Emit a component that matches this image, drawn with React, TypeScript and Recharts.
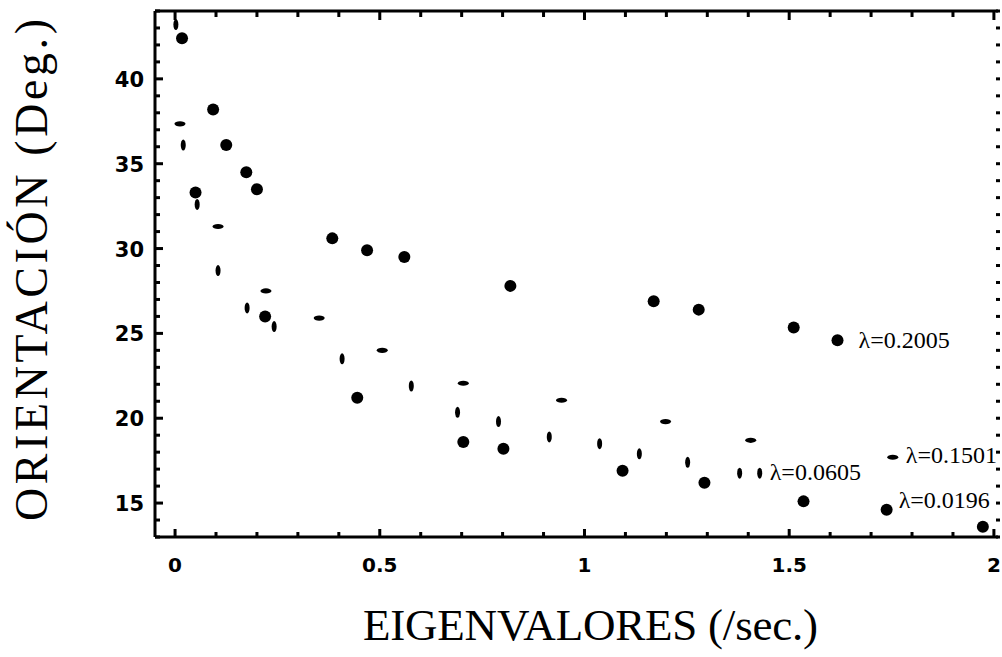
import { ScatterChart, Scatter, XAxis, YAxis, Label } from 'recharts'

// axis ticks (minor every 0.1 / every degree, labels on the majors)
const xTicks = [0, 0.1, 0.2, 0.3, 0.4, 0.5, 0.6, 0.7, 0.8, 0.9, 1, 1.1, 1.2, 1.3, 1.4, 1.5, 1.6, 1.7, 1.8, 1.9, 2]
const xMajor = [0, 0.5, 1, 1.5, 2]
const yTicks = [13, 14, 15, 16, 17, 18, 19, 20, 21, 22, 23, 24, 25, 26, 27, 28, 29, 30, 31, 32, 33, 34, 35, 36, 37, 38, 39, 40, 41, 42, 43, 44]
const yMajor = [15, 20, 25, 30, 35, 40]

// λ=0.2005 (circles, upper curve)
const upperX = [0.017, 0.093, 0.125, 0.174, 0.2, 0.384, 0.469, 0.56, 0.819, 1.169, 1.279, 1.511, 1.618]
const upperY = [42.4, 38.2, 36.1, 34.5, 33.5, 30.6, 29.9, 29.5, 27.8, 26.9, 26.4, 25.35, 24.6]

// λ=0.0196 (circles, lower curve)
const lowerX = [0.05, 0.22, 0.445, 0.704, 0.802, 1.093, 1.293, 1.535, 1.738, 1.973]
const lowerY = [33.3, 26.0, 21.2, 18.6, 18.2, 16.9, 16.2, 15.1, 14.6, 13.6]

// λ=0.1501 (horizontal dashes)
const dashX = [0.012, 0.105, 0.222, 0.352, 0.506, 0.704, 0.944, 1.198, 1.406, 1.753]
const dashY = [37.35, 31.3, 27.5, 25.9, 24.0, 22.06, 21.06, 19.8, 18.7, 17.7]

// λ=0.0605 (vertical ticks)
const tickX = [0.002, 0.02, 0.054, 0.105, 0.176, 0.242, 0.408, 0.577, 0.69, 0.79, 0.914, 1.037, 1.134, 1.252, 1.379, 1.428]
const tickY = [43.2, 36.1, 32.6, 28.7, 26.5, 25.4, 23.5, 21.9, 20.35, 19.8, 18.9, 18.5, 17.9, 17.4, 16.76, 16.76]

const toPoints = (xs: number[], ys: number[], labelAt: number, label: string) =>
  xs.map((x, i) => ({ x, y: ys[i], label: i === labelAt ? label : undefined }))

const upper = toPoints(upperX, upperY, 12, 'λ=0.2005')
const lower = toPoints(lowerX, lowerY, 8, 'λ=0.0196')
const dashes = toPoints(dashX, dashY, 9, 'λ=0.1501')
const ticks = toPoints(tickX, tickY, 15, 'λ=0.0605')

const labelOffset: Record<string, [number, number]> = {
  'λ=0.2005': [21, 8],
  'λ=0.0196': [12, -2],
  'λ=0.1501': [13, 6],
  'λ=0.0605': [10, 7],
}

const serif = "'Liberation Serif', 'Times New Roman', serif"
const boldSans = "'DejaVu Sans', sans-serif"
const frame = { stroke: '#000', strokeWidth: 3 }

function PointLabel({ cx, cy, text }: { cx: number; cy: number; text?: string }) {
  if (!text) return null
  const [dx, dy] = labelOffset[text]
  return (
    <text x={cx + dx} y={cy + dy} fontFamily={serif} fontSize={24} fill="#000">
      {text}
    </text>
  )
}

const Dot = (p: any) => (
  <g>
    <circle cx={p.cx} cy={p.cy} r={6} fill="#000" />
    <PointLabel cx={p.cx} cy={p.cy} text={p.payload?.label} />
  </g>
)

const Dash = (p: any) => (
  <g>
    <ellipse cx={p.cx} cy={p.cy} rx={5.5} ry={2.6} fill="#000" />
    <PointLabel cx={p.cx} cy={p.cy} text={p.payload?.label} />
  </g>
)

const Tick = (p: any) => (
  <g>
    <ellipse cx={p.cx} cy={p.cy} rx={2.5} ry={5.5} fill="#000" />
    <PointLabel cx={p.cx} cy={p.cy} text={p.payload?.label} />
  </g>
)

const Nothing = () => <g />

const isMajorX = (v: number) => xMajor.some((m) => Math.abs(m - v) < 1e-6)
const isMajorY = (v: number) => yMajor.includes(v)

// inward tick marks drawn as filled rects, labels only on the majors
const renderBottomTick = ({ x, y, payload }: any) => {
  const major = isMajorX(payload.value)
  const len = major ? 8 : 5
  return (
    <g>
      <rect x={x - 1.5} y={y - len} width={3} height={len} fill="#000" />
      {major && (
        <text x={x} y={y + 35} textAnchor="middle" fontFamily={boldSans} fontWeight="bold" fontSize={20} fill="#000">
          {String(payload.value)}
        </text>
      )}
    </g>
  )
}

const renderTopTick = ({ x, y, payload }: any) => {
  const len = isMajorX(payload.value) ? 9 : 6
  return <rect x={x - 1.5} y={y} width={3} height={len} fill="#000" />
}

const renderLeftTick = ({ x, y, payload }: any) => {
  const major = isMajorY(payload.value)
  const len = major ? 8 : 5
  return (
    <g>
      <rect x={x} y={y - 1.5} width={len} height={3} fill="#000" />
      {major && (
        <text x={x - 11} y={y + 8} textAnchor="end" fontFamily={boldSans} fontWeight="bold" fontSize={21} fill="#000">
          {payload.value}
        </text>
      )}
    </g>
  )
}

const renderRightTick = ({ x, y }: any) => <rect x={x - 2} y={y - 1.5} width={4} height={3} fill="#000" />

const XTitle = ({ viewBox }: any) => (
  <text
    x={viewBox.x + viewBox.width / 2 + 14}
    y={viewBox.y + 103}
    textAnchor="middle"
    fontFamily={serif}
    fontSize={45}
    textLength={455}
    lengthAdjust="spacing"
    fill="#000"
  >
    EIGENVALORES (/sec.)
  </text>
)

const YTitle = () => (
  <text
    x={47}
    y={270}
    transform="rotate(-90 47 270)"
    textAnchor="middle"
    fontFamily={serif}
    fontSize={46}
    textLength={502}
    lengthAdjust="spacing"
    fill="#000"
  >
    ORIENTACIÓN (Deg.)
  </text>
)

export default function App() {
  return (
    <div style={{ position: 'absolute', left: 0, top: 0, width: 1002, height: 657, background: '#fff' }}>
      <ScatterChart width={1002} height={657} margin={{ top: 10, right: 3, left: 0, bottom: 0 }}>
        <XAxis
          xAxisId="b"
          dataKey="x"
          type="number"
          domain={[-0.049, 2.01]}
          ticks={xTicks}
          interval={0}
          height={120}
          tickSize={0}
          tickMargin={0}
          tickLine={false}
          tick={renderBottomTick}
          axisLine={frame}
        >
          <Label content={<XTitle />} />
        </XAxis>
        <XAxis
          xAxisId="t"
          orientation="top"
          dataKey="x"
          type="number"
          domain={[-0.049, 2.01]}
          ticks={xTicks}
          interval={0}
          height={1}
          tickSize={0}
          tickMargin={0}
          tickLine={false}
          tick={renderTopTick}
          axisLine={frame}
        />
        <YAxis
          yAxisId="l"
          dataKey="y"
          type="number"
          domain={[13, 44]}
          ticks={yTicks}
          interval={0}
          width={155}
          tickSize={0}
          tickMargin={0}
          tickLine={false}
          tick={renderLeftTick}
          axisLine={frame}
        >
          <Label content={<YTitle />} />
        </YAxis>
        <YAxis
          yAxisId="r"
          orientation="right"
          dataKey="y"
          type="number"
          domain={[13, 44]}
          ticks={yTicks}
          interval={0}
          width={1}
          tickSize={0}
          tickMargin={0}
          tickLine={false}
          tick={renderRightTick}
          axisLine={false}
        />
        {/* keeps the top and right frame axes bound to data */}
        <Scatter xAxisId="t" yAxisId="r" data={lower} shape={Nothing} isAnimationActive={false} />
        <Scatter xAxisId="b" yAxisId="l" data={upper} shape={Dot} isAnimationActive={false} />
        <Scatter xAxisId="b" yAxisId="l" data={lower} shape={Dot} isAnimationActive={false} />
        <Scatter xAxisId="b" yAxisId="l" data={dashes} shape={Dash} isAnimationActive={false} />
        <Scatter xAxisId="b" yAxisId="l" data={ticks} shape={Tick} isAnimationActive={false} />
      </ScatterChart>
    </div>
  )
}
